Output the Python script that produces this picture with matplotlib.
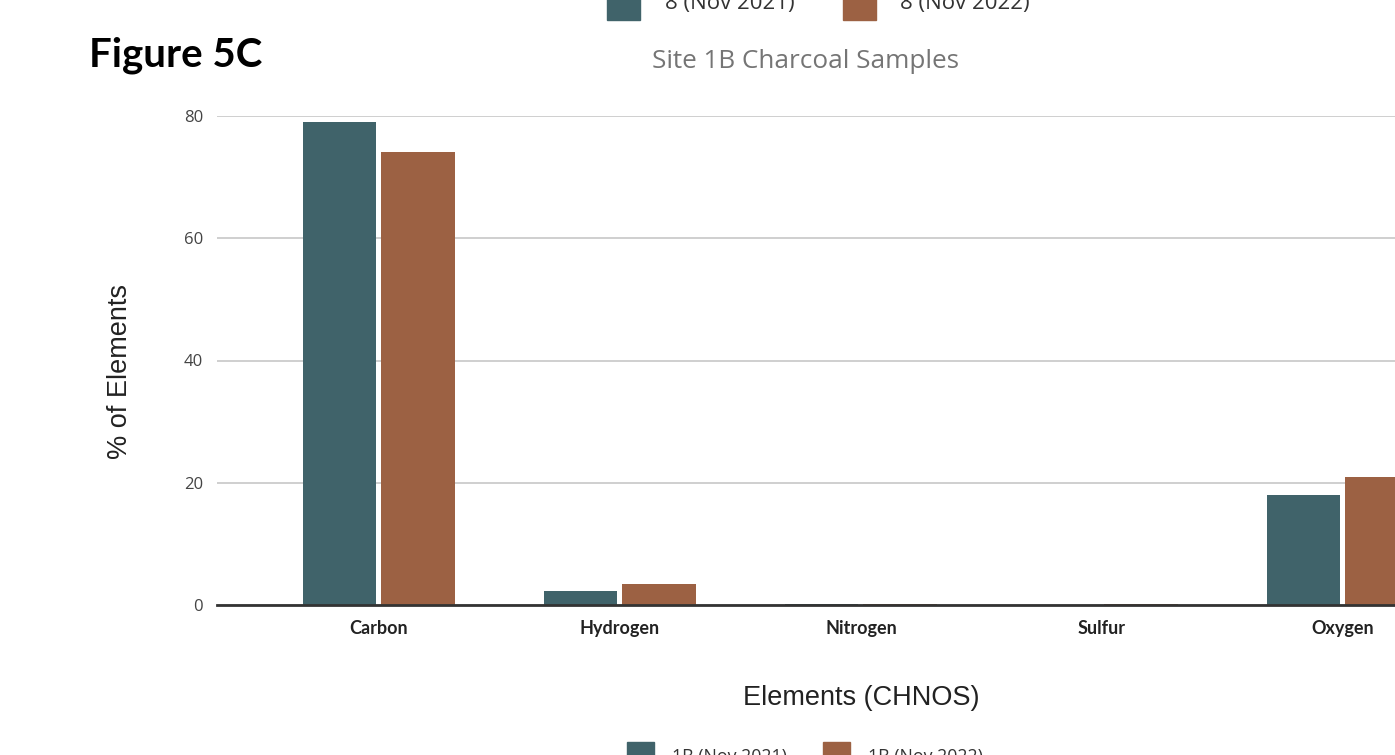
import matplotlib.pyplot as plt
from matplotlib.patches import Rectangle
import numpy as np

# element composition (%) of the charcoal samples
elements = ["Carbon", "Hydrogen", "Nitrogen", "Sulfur", "Oxygen"]
nov_2021 = [79.0, 2.3, 0.15, 0.0, 18.0]
nov_2022 = [74.1, 3.4, 0.1, 0.1, 20.9]
series_names = ["1B (Nov 2021)", "1B (Nov 2022)"]
prev_series_names = ["8 (Nov 2021)", "8 (Nov 2022)"]
y_ticks = [0, 20, 40, 60, 80]

teal = "#40636a"
rust = "#9c6143"
W, H = 1395, 755


def fx(px):
    return px / W


def fy(py):
    return 1 - py / H


fig = plt.figure(figsize=(W / 100, H / 100), dpi=100)

# axes run past the right edge of the figure
ax = fig.add_axes([fx(217), fy(605), (5.344 * 241) / W, 489 / H])
x = np.arange(len(elements))
bw = 0.303
off = 0.162
ax.bar(x - off, nov_2021, bw, color=teal, zorder=3)
ax.bar(x + off, nov_2022, bw, color=rust, zorder=3)

ax.set_xlim(-0.672, 4.672)
ax.set_ylim(0, 80)
ax.set_yticks(y_ticks)
ax.set_yticklabels([str(t) for t in y_ticks], fontsize=12, color="#444444",
                   family="Open Sans")
ax.set_xticks(x)
ax.set_xticklabels(elements, fontsize=13, color="#222222", family="Lato",
                   fontweight="bold")
ax.tick_params(axis="both", length=0)
ax.tick_params(axis="y", pad=10)
ax.tick_params(axis="x", pad=11)
ax.grid(axis="y", color="#cccccc", linewidth=1.3, zorder=0)
for s in ["top", "right", "left"]:
    ax.spines[s].set_visible(False)
ax.spines["bottom"].set_color("#333333")
ax.spines["bottom"].set_linewidth(2)
ax.spines["bottom"].set_zorder(4)

fig.text(fx(120), fy(372), "% of Elements", rotation=90, ha="center",
         va="center", fontsize=19.5, family="Liberation Sans", color="#222222")
fig.text(fx(861), fy(698), "Elements (CHNOS)", ha="center", va="center",
         fontsize=19.5, family="Liberation Sans", color="#222222")

fig.text(fx(805), fy(61), "Site 1B Charcoal Samples", ha="center", va="center",
         fontsize=18.8, family="Open Sans", color="#757575")
fig.text(fx(89), fy(55), "Figure 5C", ha="left", va="center", fontsize=29,
         family="Lato", fontweight="bold", color="black")

# legend of the chart above, cut at the top
for sx, tx, name, c in [(607, 665, prev_series_names[0], teal),
                        (843, 900, prev_series_names[1], rust)]:
    fig.add_artist(Rectangle((fx(sx), fy(20)), 33 / W, 33 / H, color=c,
                             transform=fig.transFigure))
    fig.text(fx(tx), fy(4), name, ha="left", va="center", fontsize=16,
             family="Open Sans", color="#333333")

# legend of this chart, cut at the bottom
for sx, tx, name, c in [(627, 672, series_names[0], teal),
                        (823, 868, series_names[1], rust)]:
    fig.add_artist(Rectangle((fx(sx), fy(769)), 27 / W, 27 / H, color=c,
                             transform=fig.transFigure))
    fig.text(fx(tx), fy(757), name, ha="left", va="center", fontsize=12.8,
             family="Open Sans", color="#333333")

fig.savefig("out.png", dpi=100)
